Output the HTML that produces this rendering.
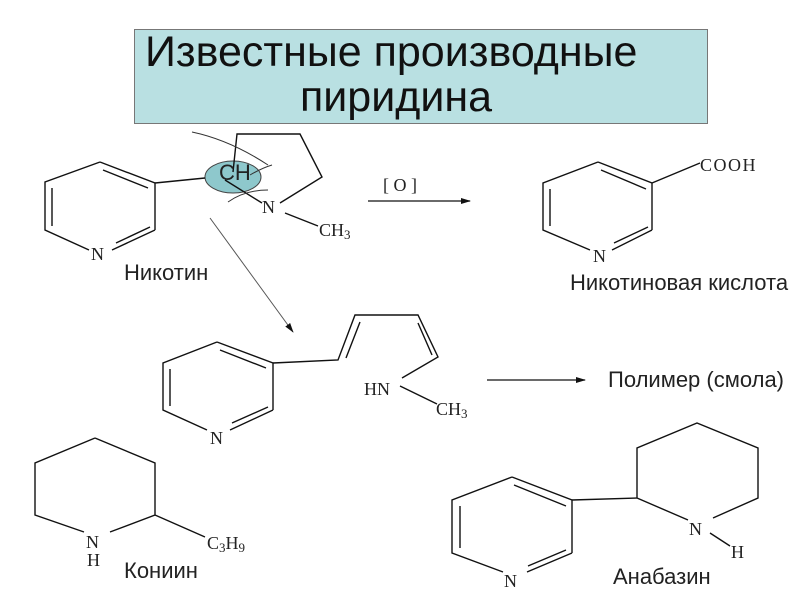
<!DOCTYPE html>
<html><head><meta charset="utf-8"><style>
html,body{margin:0;padding:0;background:#fff;width:800px;height:600px;overflow:hidden}
svg{display:block}
.l{stroke:#111;stroke-width:1.4;fill:none}
.t{font-family:"Liberation Sans",sans-serif;font-size:22px;fill:#222}
.s{font-family:"Liberation Serif",serif;font-size:18px;fill:#222}
</style></head><body>
<svg width="800" height="600" viewBox="0 0 800 600">
<defs><marker id="a" markerWidth="10" markerHeight="8" refX="9" refY="4" orient="auto" markerUnits="userSpaceOnUse"><path d="M0,1 L10,4 L0,7z" fill="#111"/></marker></defs>
<rect x="134.5" y="29.5" width="573" height="94" fill="#b9e0e2" stroke="#777"/>
<text x="145" y="66" font-family="Liberation Sans,sans-serif" font-size="43" fill="#111">Известные производные</text>
<text x="300" y="111" font-family="Liberation Sans,sans-serif" font-size="43" fill="#111">пиридина</text>

<!-- Nicotine -->
<ellipse cx="233" cy="177" rx="28" ry="16" fill="#8ec8cc" stroke="#444" stroke-width="1"/>
<path class="l" d="M100,162 L155,183 L155,230 M112,250 L155,230 M89,250 L45,230 L45,182 L100,162 M52,188 L52,226 M103,170 L148,188 M116,243 L150,227"/>
<path class="l" d="M155,183 L205,178 M233,172 L237,134 L300,134 L322,177 L280,203 M262,203 L225,180 M285,213 L318,226"/>
<path d="M192,132 Q230,140 268,165 M228,202 Q245,190 268,190 M250,175 Q262,168 272,165" stroke="#333" stroke-width="1" fill="none"/>
<text x="219" y="180" class="t" font-size="15">CH</text>
<text x="262" y="213" class="s">N</text>
<text x="319" y="236" class="s">CH<tspan font-size="13" dy="3">3</tspan></text>
<text x="91" y="260" class="s">N</text>
<text x="124" y="280" class="t">Никотин</text>

<!-- arrow [O] -->
<line x1="368" y1="201" x2="470" y2="201" stroke="#111" stroke-width="1.2" marker-end="url(#a)"/>
<text x="383" y="191" class="s" font-size="22">[ O ]</text>

<!-- Nicotinic acid -->
<path class="l" d="M598,162 L652,183 L652,230 M612,250 L652,230 M590,250 L543,230 L543,183 L598,162 M550,189 L550,226 M601,170 L646,189 M614,243 L648,227 M652,183 L700,163"/>
<text x="593" y="262" class="s">N</text>
<text x="700" y="171" class="s" font-size="17" letter-spacing="1.5">COOH</text>
<text x="570" y="290" class="t">Никотиновая кислота</text>

<!-- diagonal arrow -->
<line x1="210" y1="218" x2="293" y2="332" stroke="#555" stroke-width="1" marker-end="url(#a)"/>

<!-- middle molecule -->
<path class="l" d="M217,342 L273,363 L273,410 M230,430 L273,410 M207,430 L163,410 L163,363 L217,342 M170,369 L170,406 M220,350 L266,368 M232,423 L268,407"/>
<path class="l" d="M273,363 L338,360 L355,315 L418,315 L438,357 L402,378 M346,358 L360,322 M418,323 L432,355 M400,386 L437,404"/>
<text x="210" y="444" class="s">N</text>
<text x="364" y="395" class="s">HN</text>
<text x="436" y="415" class="s">CH<tspan font-size="13" dy="3">3</tspan></text>
<line x1="487" y1="380" x2="585" y2="380" stroke="#111" stroke-width="1.2" marker-end="url(#a)"/>
<text x="608" y="387" class="t">Полимер (смола)</text>

<!-- Coniine -->
<path class="l" d="M95,438 L155,463 L155,515 L110,532 M84,532 L35,515 L35,463 L95,438 M155,515 L205,537"/>
<text x="86" y="548" class="s" font-size="19">N</text>
<text x="87" y="566" class="s" font-size="19">H</text>
<text x="207" y="549" class="s" font-size="19">C<tspan font-size="13" dy="3">3</tspan><tspan dy="-3">H</tspan><tspan font-size="13" dy="3">9</tspan></text>
<text x="124" y="578" class="t">Кониин</text>

<!-- Anabasine -->
<path class="l" d="M512,477 L572,500 L572,553 M527,572 L572,553 M503,572 L452,553 L452,500 L512,477 M460,506 L460,548 M514,485 L566,506 M528,566 L566,550"/>
<path class="l" d="M572,500 L637,498 L637,448 L697,423 L758,448 L758,498 L713,518 M637,498 L688,520 M710,533 L730,546"/>
<text x="504" y="587" class="s">N</text>
<text x="689" y="535" class="s">N</text>
<text x="731" y="558" class="s">H</text>
<text x="613" y="584" class="t">Анабазин</text>
</svg>
</body></html>
